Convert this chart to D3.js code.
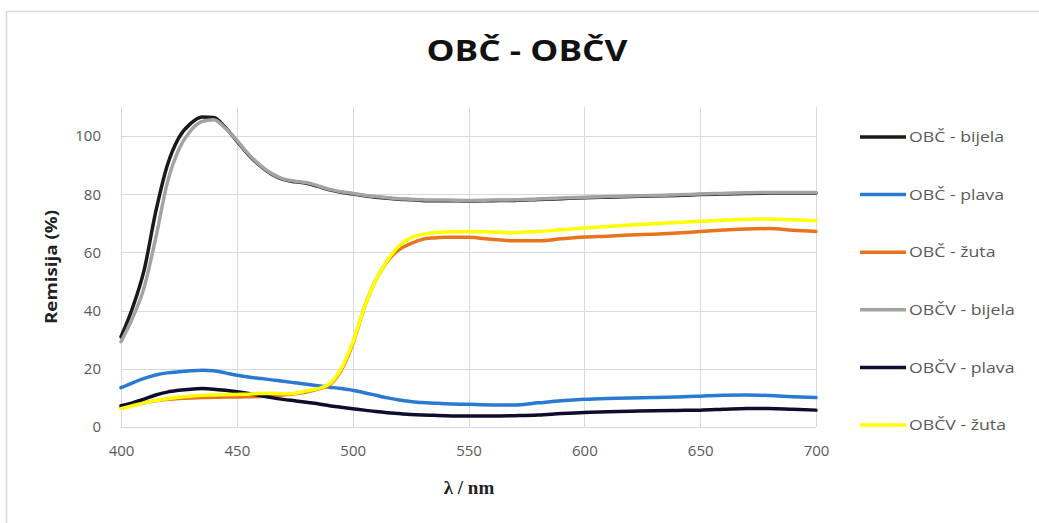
<!DOCTYPE html>
<html>
<head>
<meta charset="utf-8">
<script src="https://cdn.jsdelivr.net/npm/d3@7"></script>
<style>
  html, body { margin: 0; padding: 0; background: #fff; }
  svg { display: block; }
</style>
</head>
<body>
<svg id="chart" width="1039" height="523"></svg>
<script>
const wavelengths = [400,405,410,415,420,425,430,435,440,445,450,455,460,465,470,475,480,485,490,495,500,505,510,515,520,525,530,535,540,550,560,570,580,590,600,610,620,630,640,650,660,670,680,690,700];

const obcBijela   = [31,41,54,74,90,99.5,104.3,106.6,106.4,103,98.3,93.6,89.8,86.9,85.1,84.3,83.8,82.7,81.5,80.7,80.1,79.5,79,78.6,78.3,78.1,77.9,77.8,77.8,77.7,77.8,77.9,78.2,78.5,78.8,79,79.2,79.4,79.6,79.9,80.1,80.3,80.4,80.4,80.4];
const obcPlava    = [13.5,15.2,16.7,17.9,18.6,19,19.3,19.5,19.3,18.6,17.8,17.2,16.7,16.2,15.7,15.2,14.7,14.2,13.7,13.2,12.6,11.8,10.9,10,9.3,8.8,8.4,8.2,8,7.8,7.6,7.6,8.3,9,9.5,9.8,10,10.1,10.3,10.6,10.9,11,10.8,10.4,10.1];
const obcZuta     = [6.8,7.5,8.3,9,9.5,9.8,10,10.1,10.2,10.3,10.3,10.4,10.5,10.7,11,11.4,12,13,14.5,19.5,28.5,41,50.5,57,61,63,64.5,65,65.2,65.2,64.5,64,64,64.7,65.3,65.6,66,66.3,66.7,67.2,67.7,68.1,68.2,67.6,67.2];
const obcvBijela  = [29.3,37.5,48,65,84,95.5,101.8,105,105.6,102.7,98.5,93.8,90,87.1,85.3,84.5,84,82.9,81.7,80.9,80.3,79.7,79.2,78.8,78.5,78.3,78.1,78,78,77.9,78,78.1,78.4,78.7,79,79.2,79.4,79.6,79.8,80.1,80.3,80.5,80.6,80.6,80.6];
const obcvPlava   = [7.3,8.3,9.6,11,12,12.6,13,13.2,13,12.6,12.1,11.5,10.8,10.1,9.5,9,8.5,8,7.3,6.8,6.3,5.8,5.3,4.9,4.6,4.3,4.1,4,3.9,3.8,3.8,3.9,4.1,4.6,5,5.2,5.4,5.6,5.7,5.8,6.1,6.4,6.4,6.1,5.8];
const obcvZuta    = [6.3,7.3,8.3,9.1,9.7,10.2,10.6,10.9,11,11.1,11.2,11.3,11.5,11.6,11.4,11.6,12.4,13.2,14.8,20,29,41,50.5,57.3,62.2,65,66.2,66.8,67,67.2,67,66.8,67.2,67.8,68.4,68.9,69.4,69.9,70.3,70.7,71.1,71.4,71.5,71.2,70.9];

const seriesNames  = ["OBČ - bijela","OBČ - plava","OBČ - žuta","OBČV - bijela","OBČV - plava","OBČV - žuta"];
const seriesValues = [obcBijela, obcPlava, obcZuta, obcvBijela, obcvPlava, obcvZuta];
const seriesColors = ["#1a1a1a","#2a7ad2","#e8731f","#a3a3a3","#0e0e2c","#ffff00"];

const xTicks = [400,450,500,550,600,650,700];
const yTicks = [0,20,40,60,80,100];

const title = "OBČ - OBČV";
const xTitle = "λ / nm";
const yTitle = "Remisija (%)";

const svg = d3.select("#chart");

// outer border
svg.append("rect").attr("x", 6.5).attr("y", 11.5).attr("width", 1100).attr("height", 600)
  .attr("fill", "none").attr("stroke", "#d9d9d9").attr("stroke-width", 1.5);

const plot = {left: 121, right: 816, top: 107, bottom: 427};
const x = d3.scaleLinear().domain([400, 700]).range([plot.left, plot.right]);
const y = d3.scaleLinear().domain([0, 110]).range([plot.bottom, plot.top]);

// gridlines
const g = svg.append("g");
g.selectAll("line.hg").data(yTicks.filter(d => d > 0)).enter().append("line")
  .attr("x1", plot.left).attr("x2", plot.right)
  .attr("y1", d => Math.round(y(d)) + 0.5).attr("y2", d => Math.round(y(d)) + 0.5)
  .attr("stroke", "#d9d9d9").attr("stroke-width", 1);
g.selectAll("line.vg").data(xTicks).enter().append("line")
  .attr("x1", d => Math.round(x(d)) + 0.5).attr("x2", d => Math.round(x(d)) + 0.5)
  .attr("y1", plot.top).attr("y2", plot.bottom)
  .attr("stroke", "#d9d9d9").attr("stroke-width", 1);
g.append("line").attr("x1", plot.left).attr("x2", plot.right)
  .attr("y1", plot.bottom + 0.5).attr("y2", plot.bottom + 0.5)
  .attr("stroke", "#d9d9d9").attr("stroke-width", 1);

// axes (labels only)
const xAxis = svg.append("g").attr("transform", `translate(0,${plot.bottom})`)
  .call(d3.axisBottom(x).tickValues(xTicks).tickSize(0).tickPadding(18).tickFormat(d3.format("d")));
const yAxis = svg.append("g").attr("transform", `translate(${plot.left},0)`)
  .call(d3.axisLeft(y).tickValues(yTicks).tickSize(0).tickPadding(20).tickFormat(d3.format("d")));
[xAxis, yAxis].forEach(a => {
  a.select(".domain").remove();
  a.selectAll("text").attr("font-family", "'Open Sans', sans-serif").attr("font-size", 15).attr("fill", "#595959");
});

// lines
const line = d3.line().x((d, i) => x(wavelengths[i])).y(d => y(d)).curve(d3.curveMonotoneX);
svg.append("g").selectAll("path").data(seriesValues).enter().append("path")
  .attr("d", d => line(d))
  .attr("fill", "none")
  .attr("stroke", (d, i) => seriesColors[i])
  .attr("stroke-width", 3.5)
  .attr("stroke-linejoin", "round").attr("stroke-linecap", "round");

// title
svg.append("text").attr("x", 527).attr("y", 61).attr("text-anchor", "middle")
  .attr("font-family", "'Open Sans', sans-serif").attr("font-weight", "bold").attr("font-size", 28)
  .attr("textLength", 201).attr("lengthAdjust", "spacingAndGlyphs")
  .attr("fill", "#111").text(title);

// axis titles
svg.append("text").attr("x", 469).attr("y", 494).attr("text-anchor", "middle")
  .attr("font-family", "'Liberation Serif', serif").attr("font-weight", "bold").attr("font-size", 19)
  .attr("fill", "#222").text(xTitle);
svg.append("text").attr("transform", "translate(57,267) rotate(-90)").attr("text-anchor", "middle")
  .attr("font-family", "'Open Sans', sans-serif").attr("font-weight", "bold").attr("font-size", 16)
  .attr("textLength", 114).attr("lengthAdjust", "spacingAndGlyphs")
  .attr("fill", "#222").text(yTitle);

// legend
const legend = svg.append("g");
const legY = d3.scaleLinear().domain([0, 5]).range([137, 425]);
seriesNames.forEach((name, i) => {
  const yy = legY(i);
  legend.append("line").attr("x1", 860).attr("x2", 906).attr("y1", yy).attr("y2", yy)
    .attr("stroke", seriesColors[i]).attr("stroke-width", 3.5);
  legend.append("text").attr("transform", `translate(909,${yy}) scale(1.18,1)`).attr("dy", "0.35em")
    .attr("font-family", "'Open Sans', sans-serif").attr("font-size", 15).attr("fill", "#595959")
    .text(name);
});
</script>
</body>
</html>
